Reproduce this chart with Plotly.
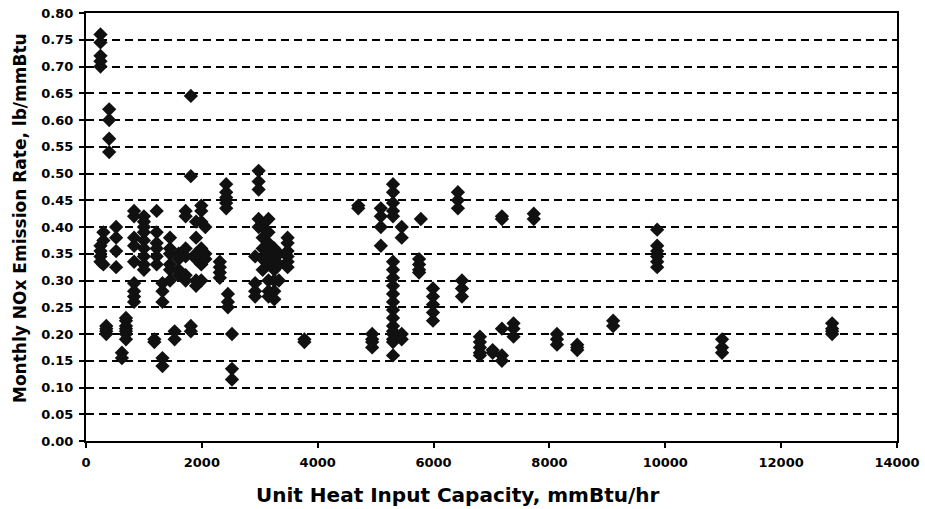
import plotly.graph_objects as go

# Unit heat input capacity (mmBtu/hr) and the monthly NOx rates observed for each unit
unit_capacity = [250, 300, 350, 400, 520, 620, 690, 830, 1000, 1180, 1220, 1320, 1450, 1530,
                 1600, 1720, 1810, 1900, 1990, 2060, 2310, 2420, 2450, 2520, 2920, 2980, 3050,
                 3150, 3250, 3330, 3480, 3770, 4700, 4940, 5090, 5300, 5450, 5750, 5780, 5990,
                 6420, 6490, 6800, 7020, 7180, 7380, 7730, 8130, 8480, 9100, 9860, 10980, 12880]

monthly_rates = [
    [0.76, 0.745, 0.72, 0.71, 0.70, 0.365, 0.355, 0.345, 0.335],
    [0.39, 0.375, 0.33],
    [0.215, 0.21, 0.205, 0.20],
    [0.62, 0.60, 0.565, 0.54],
    [0.40, 0.38, 0.355, 0.325],
    [0.165, 0.155],
    [0.23, 0.225, 0.215, 0.21, 0.205, 0.20, 0.19],
    [0.43, 0.42, 0.38, 0.365, 0.335, 0.295, 0.28, 0.27, 0.26],
    [0.42, 0.41, 0.40, 0.39, 0.375, 0.36, 0.345, 0.33, 0.32],
    [0.19, 0.185],
    [0.43, 0.39, 0.37, 0.36, 0.345, 0.33],
    [0.295, 0.28, 0.26, 0.155, 0.14],
    [0.38, 0.36, 0.35, 0.33, 0.32, 0.30],
    [0.205, 0.19],
    [0.35, 0.34, 0.32, 0.31],
    [0.43, 0.42, 0.36, 0.345, 0.31, 0.30],
    [0.645, 0.495, 0.215, 0.205],
    [0.41, 0.38, 0.35, 0.34, 0.30, 0.29],
    [0.44, 0.43, 0.41, 0.36, 0.345, 0.33, 0.30],
    [0.40, 0.35, 0.34],
    [0.335, 0.325, 0.315, 0.305],
    [0.48, 0.465, 0.455, 0.445, 0.435],
    [0.275, 0.26, 0.25],
    [0.20, 0.135, 0.115],
    [0.345, 0.295, 0.28, 0.27],
    [0.505, 0.485, 0.47, 0.415, 0.40],
    [0.40, 0.38, 0.36, 0.34, 0.32],
    [0.415, 0.39, 0.37, 0.35, 0.33, 0.30, 0.28, 0.27],
    [0.36, 0.34, 0.32, 0.30, 0.28, 0.265],
    [0.35, 0.33, 0.30],
    [0.38, 0.37, 0.355, 0.345, 0.335, 0.325],
    [0.19, 0.185],
    [0.44, 0.435],
    [0.20, 0.19, 0.185, 0.175],
    [0.435, 0.42, 0.40, 0.365],
    [0.48, 0.465, 0.445, 0.43, 0.42, 0.335, 0.32, 0.305, 0.29, 0.275, 0.26, 0.245,
     0.23, 0.215, 0.205, 0.20, 0.19, 0.185, 0.16],
    [0.40, 0.38, 0.20, 0.19],
    [0.34, 0.33, 0.32, 0.315],
    [0.415],
    [0.285, 0.27, 0.255, 0.24, 0.225],
    [0.465, 0.45, 0.435],
    [0.30, 0.285, 0.27],
    [0.195, 0.185, 0.175, 0.165, 0.16],
    [0.17, 0.165],
    [0.42, 0.415, 0.21, 0.16, 0.15],
    [0.22, 0.21, 0.195],
    [0.425, 0.415],
    [0.20, 0.19, 0.18],
    [0.18, 0.175, 0.17],
    [0.225, 0.215],
    [0.395, 0.365, 0.355, 0.345, 0.335, 0.325],
    [0.19, 0.175, 0.165],
    [0.22, 0.21, 0.205, 0.20],
]

y_ticks = [0.00, 0.05, 0.10, 0.15, 0.20, 0.25, 0.30, 0.35, 0.40,
           0.45, 0.50, 0.55, 0.60, 0.65, 0.70, 0.75, 0.80]
y_tick_labels = ["0.00", "0.05", "0.10", "0.15", "0.20", "0.25", "0.30", "0.35", "0.40",
                 "0.45", "0.50", "0.55", "0.60", "0.65", "0.70", "0.75", "0.80"]

x_title = "Unit Heat Input Capacity, mmBtu/hr"
y_title = "Monthly NOx Emission Rate, lb/mmBtu"

xs, ys = [], []
for cap, rates in zip(unit_capacity, monthly_rates):
    for r in rates:
        xs.append(cap)
        ys.append(r)

font_family = "DejaVu Sans, Arial, sans-serif"

fig = go.Figure()
fig.add_trace(go.Scatter(
    x=xs, y=ys, mode="markers",
    marker=dict(symbol="diamond", size=11, color="#111111",
                line=dict(color="#111111", width=0)),
    showlegend=False,
))

fig.update_layout(
    width=925, height=509,
    margin=dict(l=86, r=28, t=13, b=68),
    paper_bgcolor="white", plot_bgcolor="white",
    font=dict(family=font_family, size=13, color="black", weight="bold"),
    xaxis=dict(
        range=[0, 14000], dtick=2000, tickformat="d",
        showgrid=False, zeroline=False, automargin=False,
        showline=True, linecolor="black", linewidth=2, mirror=True,
        ticks="outside", ticklen=5, tickcolor="black", tickwidth=1.5,
        ticklabelstandoff=3,
        tickfont=dict(family=font_family, size=13, weight="bold"),
    ),
    yaxis=dict(
        range=[0, 0.8], tickmode="array", tickvals=y_ticks, ticktext=y_tick_labels,
        showgrid=True, gridcolor="black", gridwidth=1.6, griddash="8px,5px",
        zeroline=False, automargin=False,
        showline=True, linecolor="black", linewidth=2, mirror=True,
        ticks="outside", ticklen=5, tickcolor="black", tickwidth=1.5,
        ticklabelstandoff=3,
        tickfont=dict(family=font_family, size=13, weight="bold"),
    ),
    annotations=[
        dict(text=x_title, xref="paper", yref="paper", x=0.459, y=0,
             xanchor="center", yanchor="middle", yshift=-54, showarrow=False,
             font=dict(family=font_family, size=20, weight="bold", color="black")),
        dict(text=y_title, xref="paper", yref="paper", x=0, y=0.521,
             xanchor="center", yanchor="middle", xshift=-66, textangle=-90,
             showarrow=False,
             font=dict(family=font_family, size=17, weight="bold", color="black")),
    ],
)

# remove the browser's default 8px body margin so the figure fills the window exactly
fig.write_html("out.html",
               config={"displayModeBar": False},
               post_script="document.body.style.margin='0px';document.body.style.overflow='hidden';")
